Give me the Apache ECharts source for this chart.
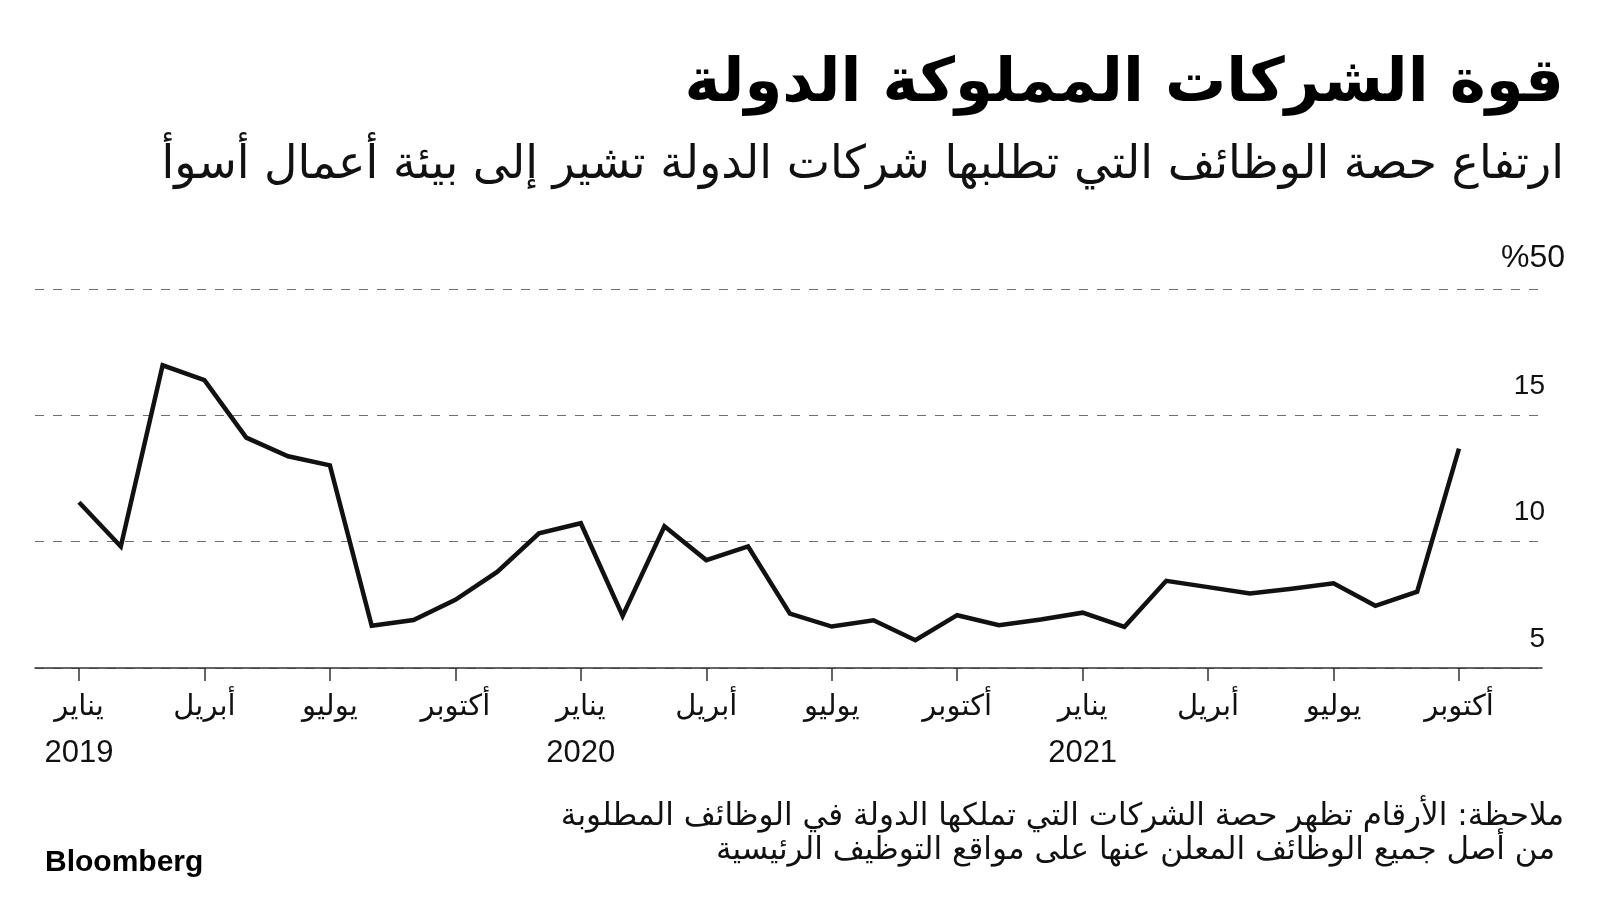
<!DOCTYPE html>
<html>
<head>
<meta charset="utf-8">
<script src="https://cdn.jsdelivr.net/npm/echarts/dist/echarts.min.js"></script>
<style>
html,body{margin:0;padding:0;background:#fff;}
#chart{width:1600px;height:900px;}
</style>
</head>
<body>
<div id="chart"></div>
<script>
// ---- data ----
const months = [
  '2019-01','2019-02','2019-03','2019-04','2019-05','2019-06','2019-07','2019-08','2019-09','2019-10','2019-11','2019-12',
  '2020-01','2020-02','2020-03','2020-04','2020-05','2020-06','2020-07','2020-08','2020-09','2020-10','2020-11','2020-12',
  '2021-01','2021-02','2021-03','2021-04','2021-05','2021-06','2021-07','2021-08','2021-09','2021-10'
];
const shareValues = [
  11.56, 9.81, 16.98, 16.39, 14.12, 13.38, 13.02, 6.67, 6.9, 7.7, 8.8, 10.33,
  10.73, 7.06, 10.61, 9.27, 9.81, 7.15, 6.64, 6.89, 6.10, 7.09, 6.69, 6.92,
  7.19, 6.63, 8.45, 8.20, 7.95, 8.14, 8.35, 7.46, 8.02, 13.68
];
const tickMonthKeys = ['01','04','07','10'];
const tickMonthNames = ['يناير','أبريل','يوليو','أكتوبر'];
const yTickValues = [5, 10, 15, 20];
const yTickLabels = ['5', '10', '15', '%50'];

const titleText = 'قوة الشركات المملوكة الدولة';
const subtitleText = 'ارتفاع حصة الوظائف التي تطلبها شركات الدولة تشير إلى بيئة أعمال أسوأ';
const noteLine1 = 'ملاحظة: الأرقام تظهر حصة الشركات التي تملكها الدولة في الوظائف المطلوبة';
const noteLine2 = 'من أصل جميع الوظائف المعلن عنها على مواقع التوظيف الرئيسية';
const sourceText = 'Bloomberg';

// ---- build ----
const FONT = '"Liberation Sans", "DejaVu Sans", sans-serif';
const AR_FONT = '"DejaVu Sans", sans-serif';

const tickIdx = [];
months.forEach((m, i) => { if (tickMonthKeys.indexOf(m.slice(5)) >= 0) tickIdx.push(i); });

function xLabel(v) {
  const i = Math.round(v);
  const m = months[i];
  if (!m) return '';
  const name = tickMonthNames[tickMonthKeys.indexOf(m.slice(5))];
  return m.slice(5) === '01' ? '{m|' + name + '}\n{y|' + m.slice(0, 4) + '}' : '{m|' + name + '}\n{y| }';
}

const chart = echarts.init(document.getElementById('chart'), null, {renderer: 'canvas'});
chart.setOption({
  backgroundColor: '#ffffff',
  animation: false,
  title: [
    {text: titleText, right: 36, top: 55, padding: 0, textStyle: {fontFamily: AR_FONT, fontSize: 61, fontWeight: 'bold', color: '#000'}},
    {text: subtitleText, right: 36, top: 143, padding: 0, textStyle: {fontFamily: AR_FONT, fontSize: 46, fontWeight: 'normal', color: '#111'}},
    {text: noteLine1, right: 36, top: 801, padding: 0, textStyle: {fontFamily: AR_FONT, fontSize: 31, fontWeight: 'normal', color: '#111'}},
    {text: noteLine2, right: 45, top: 835, padding: 0, textStyle: {fontFamily: AR_FONT, fontSize: 31, fontWeight: 'normal', color: '#111'}},
    {text: sourceText, left: 45, top: 848, padding: 0, textStyle: {fontFamily: FONT, fontSize: 30, fontWeight: 'bold', color: '#000'}}
  ],
  grid: {left: 35, right: 58, top: 289, bottom: 232, containLabel: false, outerBoundsMode: 'none'},
  xAxis: {
    type: 'value',
    min: -1.052,
    max: 34.985,
    splitLine: {show: false},
    axisLine: {show: true, lineStyle: {color: '#333', width: 1.5}},
    axisTick: {show: true, customValues: tickIdx, length: 13, lineStyle: {color: '#333', width: 1.5}},
    axisLabel: {
      customValues: tickIdx,
      formatter: xLabel,
      margin: 16,
      fontFamily: FONT,
      fontSize: 28,
      lineHeight: 46,
      color: '#111',
      rich: {
        m: {fontFamily: FONT, fontSize: 29, lineHeight: 46, color: '#111'},
        y: {fontFamily: FONT, fontSize: 31, lineHeight: 46, color: '#111'}
      }
    }
  },
  yAxis: {
    type: 'value',
    position: 'right',
    min: 5,
    max: 20,
    interval: 5,
    axisLine: {show: false},
    axisTick: {show: false},
    splitLine: {show: true, lineStyle: {color: '#707070', width: 1, type: [9, 9]}},
    axisLabel: {
      inside: true,
      margin: -23,
      align: 'right',
      verticalAlign: 'bottom',
      padding: [0, 0, 14, 0],
      fontFamily: FONT,
      fontSize: 28,
      lineHeight: 30,
      color: '#111',
      formatter: function (v) {
        const k = yTickValues.indexOf(v);
        const t = k >= 0 ? yTickLabels[k] : '';
        return k === yTickValues.length - 1 ? '{t|' + t + '}' : '{n|' + t + '}';
      },
      rich: {
        t: {fontFamily: FONT, fontSize: 32, color: '#111', padding: [0, 0, 4, 0]},
        n: {fontFamily: FONT, fontSize: 28, color: '#111', padding: [0, 20, 0, 0]}
      }
    }
  },
  series: [{
    type: 'line',
    data: shareValues.map((v, i) => [i, v]),
    symbol: 'none',
    lineStyle: {color: '#111', width: 4.5, join: 'miter'},
    z: 5
  }]
});
</script>
</body>
</html>
